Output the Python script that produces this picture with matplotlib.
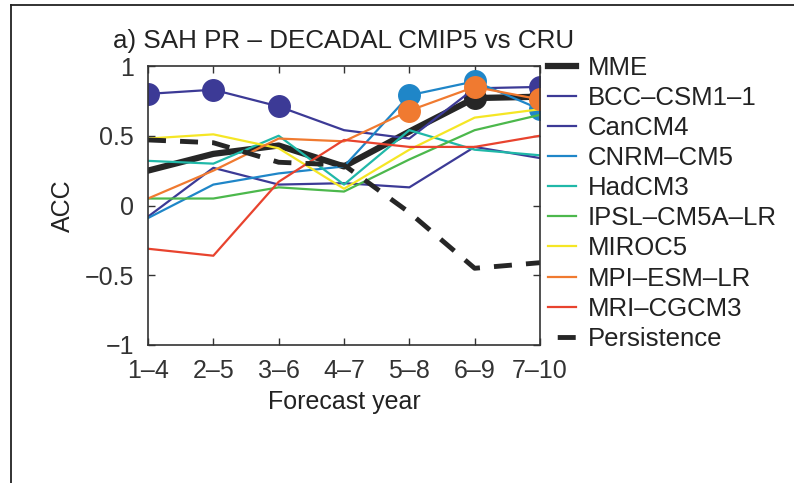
import numpy as np
import matplotlib
matplotlib.use('Agg')
import matplotlib.pyplot as plt
from matplotlib.lines import Line2D

plt.rcParams['font.family'] = ['Liberation Sans', 'DejaVu Sans']

# forecast ranges
years = ['1\u20134', '2\u20135', '3\u20136', '4\u20137', '5\u20138', '6\u20139', '7\u201310']

mme = [0.25, 0.37, 0.43, 0.28, 0.53, 0.77, 0.78]
bcc = [0.80, 0.83, 0.71, 0.54, 0.48, 0.84, 0.85]
cancm4 = [-0.08, 0.27, 0.15, 0.16, 0.13, 0.42, 0.34]
cnrm = [-0.09, 0.15, 0.23, 0.28, 0.79, 0.89, 0.69]
hadcm3 = [0.32, 0.30, 0.50, 0.15, 0.54, 0.40, 0.36]
ipsl = [0.05, 0.05, 0.13, 0.10, 0.33, 0.54, 0.65]
miroc5 = [0.48, 0.51, 0.41, 0.12, 0.40, 0.63, 0.69]
mpi = [0.05, 0.25, 0.48, 0.46, 0.68, 0.85, 0.76]
mri = [-0.31, -0.36, 0.17, 0.47, 0.42, 0.42, 0.50]
persistence = [0.47, 0.45, 0.31, 0.29, -0.05, -0.45, -0.41]

# indices of points drawn with a filled circle
mme_sig = [5, 6]
bcc_sig = [0, 1, 2, 6]
cnrm_sig = [4, 5, 6]
mpi_sig = [4, 5, 6]

fig = plt.figure(figsize=(7.94, 4.83), dpi=100)
ax = fig.add_axes([148 / 794, 1 - 345 / 483, 392 / 794, 279 / 483])

x = np.arange(len(years))

series = [
    ('MME', mme, '#262626', 4.5, mme_sig),
    ('BCC\u2013CSM1\u20131', bcc, '#3c3a96', 1.6, bcc_sig),
    ('CanCM4', cancm4, '#3c3a96', 1.6, []),
    ('CNRM\u2013CM5', cnrm, '#1f86c8', 1.6, cnrm_sig),
    ('HadCM3', hadcm3, '#20b8a8', 1.6, []),
    ('IPSL\u2013CM5A\u2013LR', ipsl, '#4cb84c', 1.6, []),
    ('MIROC5', miroc5, '#f5e625', 1.6, []),
    ('MPI\u2013ESM\u2013LR', mpi, '#f07a30', 1.6, mpi_sig),
    ('MRI\u2013CGCM3', mri, '#e8432e', 1.6, []),
]

handles = []
for name, vals, col, lw, sig in series:
    ax.plot(x, vals, color=col, lw=lw,
            marker='o', markevery=sig if sig else [], markersize=15.5,
            markerfacecolor=col, markeredgecolor=col)
    handles.append(Line2D([], [], color=col, lw=lw, label=name))

ax.plot(x, persistence, color='#262626', lw=3.5, linestyle=(0, (3.7, 2.9)))
handles.append(Line2D([], [], color='#262626', lw=3.5, linestyle=(4.7, (3.7, 2.9)),
                      label='Persistence'))

ax.set_xlim(0, len(years) - 1)
ax.set_ylim(-1, 1)
ax.set_xticks(x)
ax.set_xticklabels(years)
ax.set_yticks([-1, -0.5, 0, 0.5, 1])
ax.set_yticklabels(['\u22121', '\u22120.5', '0', '0.5', '1'])
ax.tick_params(direction='in', top=True, right=True, length=5, width=1,
               labelsize=18, colors='#333333', pad=10)
ax.tick_params(axis='x', pad=10)
for s in ax.spines.values():
    s.set_color('#333333')
    s.set_linewidth(1.2)

ax.set_title('a) SAH PR \u2013 DECADAL CMIP5 vs CRU', fontsize=18.7, color='#222222', pad=13)
ax.set_xlabel('Forecast year', fontsize=18, color='#222222', labelpad=5)
ax.set_ylabel('ACC', fontsize=18, color='#222222', labelpad=7)

leg = ax.legend(handles=handles, loc='upper left', bbox_to_anchor=(1.02, 1.035), frameon=False,
                fontsize=18.5, handlelength=1.09, handletextpad=0.45,
                labelspacing=0.235, borderaxespad=0, borderpad=0)
for t in leg.get_texts():
    t.set_color('#222222')

# page border
fig.add_artist(Line2D([11 / 794, 11 / 794], [0, 1 - 5 / 483], transform=fig.transFigure,
                      color='#222222', lw=1.3))
fig.add_artist(Line2D([11 / 794, 1], [1 - 5 / 483, 1 - 5 / 483], transform=fig.transFigure,
                      color='#222222', lw=1.3))

plt.savefig('out.png', dpi=100)
